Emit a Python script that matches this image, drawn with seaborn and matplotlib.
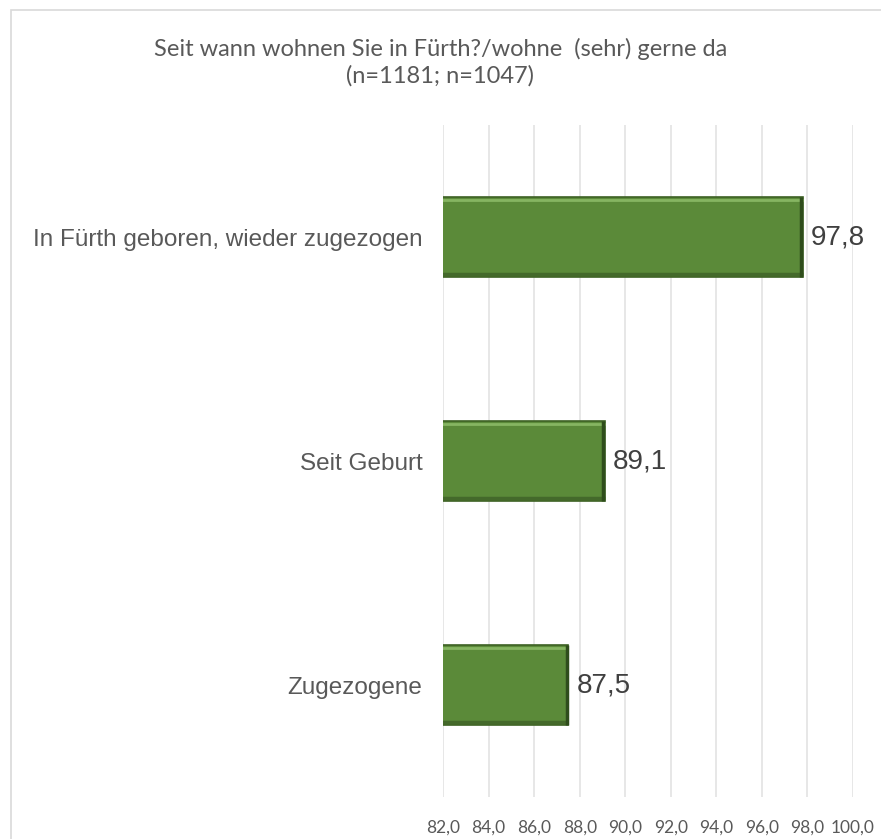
import numpy as np
import pandas as pd
import matplotlib
matplotlib.use("Agg")
import matplotlib.pyplot as plt
import seaborn as sns
from matplotlib.patches import Rectangle

categories = ["In Fürth geboren, wieder zugezogen", "Seit Geburt", "Zugezogene"]
values = [97.8, 89.1, 87.5]
value_labels = ["97,8", "89,1", "87,5"]
xticks = [82, 84, 86, 88, 90, 92, 94, 96, 98, 100]
xtick_labels = ["82,0", "84,0", "86,0", "88,0", "90,0", "92,0", "94,0", "96,0", "98,0", "100,0"]
title = "Seit wann wohnen Sie in Fürth?/wohne  (sehr) gerne da\n(n=1181; n=1047)"

sns.set_theme(style="white")
plt.rcParams["font.family"] = ["Liberation Sans", "DejaVu Sans"]

df = pd.DataFrame({"cat": categories, "val": values})

fig = plt.figure(figsize=(8.81, 8.39), dpi=100)
ax = fig.add_axes([0.503, 0.050, 0.465, 0.801])

# chart frame
fig.patches.append(Rectangle((11 / 881, -0.01), 1.0, 1 - 10 / 839 + 0.01,
                             transform=fig.transFigure, fill=False,
                             edgecolor="#d9d9d9", linewidth=1.2))

sns.barplot(data=df, x="val", y="cat", orient="h", ax=ax,
            color="#5b8a39", width=0.355, saturation=1,
            edgecolor="#3d6124", linewidth=1.2)

# bevel: light top, dark right and bottom
for p in ax.patches:
    x0, y0 = p.get_x(), p.get_y()
    w, h = p.get_width(), p.get_height()
    ax.plot([x0, x0 + w], [y0 + 0.04 * h, y0 + 0.04 * h], color="#86b562", lw=2,
            solid_capstyle="butt", zorder=3)
    ax.plot([x0, x0 + w], [y0 + h * 0.96, y0 + h * 0.96], color="#44692b", lw=2.5,
            solid_capstyle="butt", zorder=3)
    ax.plot([x0 + w - 0.07, x0 + w - 0.07], [y0, y0 + h], color="#2f4d1c", lw=2.5,
            solid_capstyle="butt", zorder=3)

ax.set_xlim(82, 100)
ax.set_ylim(2.5, -0.5)
ax.set_xticks(xticks)
ax.set_xticklabels(xtick_labels, fontsize=12.5, color="#595959", family=["Lato", "DejaVu Sans"])
ax.tick_params(axis="x", length=0, pad=16)
ax.tick_params(axis="y", length=0, pad=15, labelsize=17.5, labelcolor="#595959")
ax.xaxis.grid(True, color="#e3e3e3", linewidth=1.2)
ax.set_axisbelow(True)
for s in ax.spines.values():
    s.set_visible(False)
ax.set_xlabel("")
ax.set_ylabel("")

for i, (v, lab) in enumerate(zip(values, value_labels)):
    ax.annotate(lab, (v, i), xytext=(6, 0), textcoords="offset points",
                va="center", ha="left", fontsize=20, color="#404040")

fig.text(0.5, 0.926, title, ha="center", va="center", fontsize=17,
         color="#595959", linespacing=1.3, family=["Lato", "DejaVu Sans"])

fig.savefig("out.png", dpi=100)
